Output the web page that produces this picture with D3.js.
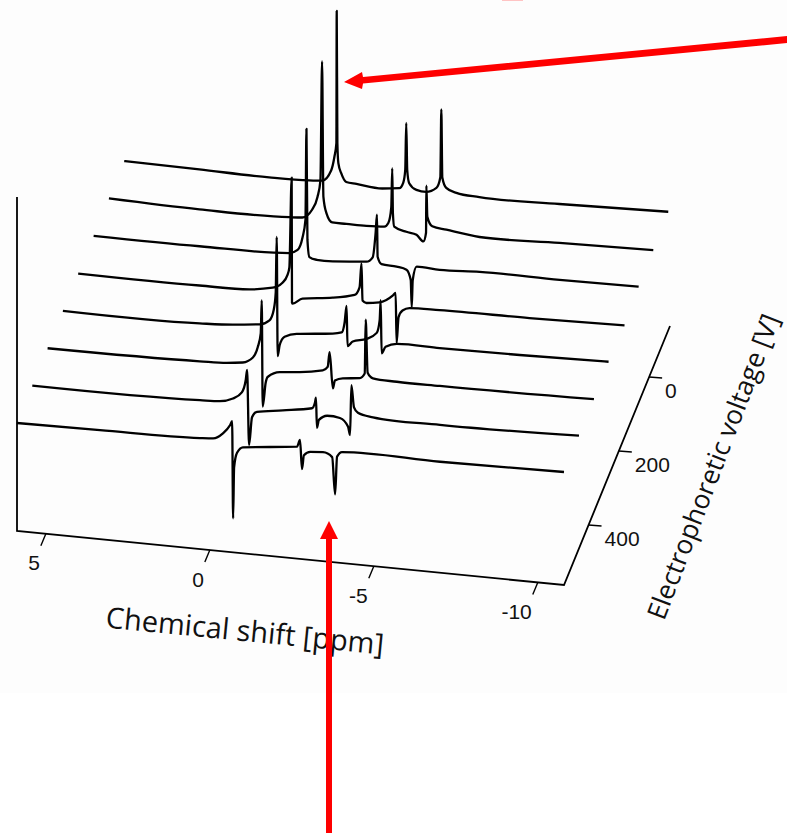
<!DOCTYPE html>
<html>
<head>
<meta charset="utf-8">
<script src="https://cdn.jsdelivr.net/npm/d3@7"></script>
<style>
  html, body { margin: 0; padding: 0; background: #fff; }
  svg { display: block; }
</style>
</head>
<body>
<div class="chart"></div>
<script>
let width = 787
let height = 840

// voltage of each trace, front to back
let voltages = [562, 461, 360, 259, 158, 56, -45, -146]
let ppmTicks = [5, 0, -5, -10]
let voltTicks = [0, 200, 400]

// [chemical shift, intensity], one list per voltage
let trace562 = [[5.88,0],[3.35,0.1],[0.30,0.3],[-0.10,0.4],[-0.40,1.0],[-0.62,1.9],[-0.68,2.3],[-0.71,-7.4],[-0.74,-2.3],[-0.83,-0.8],[-1.01,-0.2],[-2.66,0.4],[-2.75,1.1],[-2.81,-1.8],[-2.87,-0.4],[-3.06,0],[-3.45,0.1],[-3.73,-0.3],[-3.82,-4.0],[-3.88,-0.2],[-4.03,0.3],[-7.02,0.3],[-10.80,0.5]]
let trace461 = [[5.88,0],[0.77,0.2],[0.16,0.3],[-0.24,0.7],[-0.51,1.4],[-0.63,2.7],[-0.67,3.7],[-0.73,-3.8],[-0.82,-1.0],[-0.97,-0.4],[-1.76,0],[-2.65,0.5],[-2.74,1.1],[-2.77,1.6],[-2.80,-1.4],[-2.86,-0.6],[-3.11,-0.1],[-3.50,-0.2],[-3.75,-1.0],[-3.81,-1.8],[-3.85,3.2],[-3.93,1.0],[-4.05,0.5],[-4.51,0.2],[-6.55,0.1],[-10.79,0.4]]
let trace360 = [[5.88,0],[1.24,0.2],[0.42,0.3],[-0.07,0.5],[-0.38,1.1],[-0.53,2.2],[-0.62,3.6],[-0.65,6.9],[-0.68,-3.7],[-0.77,-1.3],[-0.83,-0.7],[-1.20,-0.1],[-1.81,0.1],[-2.51,0.5],[-2.66,0.9],[-2.72,2.4],[-2.82,-1.2],[-2.88,-0.4],[-3.12,-0.1],[-3.64,0.1],[-3.79,0.6],[-3.82,6.0],[-3.88,0.7],[-4.04,0.2],[-4.77,0.1],[-6.08,0.1],[-10.78,0.3]]
let trace259 = [[5.88,0],[1.71,0.1],[0.70,0.3],[-0.12,0.6],[-0.42,1.1],[-0.55,2.2],[-0.61,3.9],[-0.64,9.5],[-0.67,-2.4],[-0.73,-1.3],[-0.88,-0.4],[-1.25,0],[-2.35,0.4],[-2.62,0.6],[-2.71,1.6],[-2.77,3.3],[-2.80,-0.7],[-2.96,-0.2],[-3.38,0.2],[-3.69,0.9],[-3.78,2.2],[-3.81,4.2],[-3.84,-1.1],[-3.96,-0.4],[-4.30,0],[-5.61,0],[-8.05,0.1],[-10.76,0.3]]
let trace158 = [[5.88,0],[2.18,0],[0.66,0.1],[-0.05,0.5],[-0.35,1.1],[-0.50,1.9],[-0.56,2.7],[-0.63,11.7],[-0.64,-0.8],[-0.66,-0.9],[-0.96,-0.3],[-1.88,0.1],[-2.55,0.6],[-2.70,1.4],[-2.76,3.8],[-2.79,0.1],[-2.91,-0.1],[-3.31,0.1],[-3.71,0.9],[-3.80,1.2],[-3.83,-3.8],[-3.89,-1.2],[-4.01,-0.5],[-4.22,-0.2],[-5.14,-0.1],[-7.88,0],[-10.78,0.2]]
let trace56 = [[5.88,0],[2.65,0],[-0.09,0.2],[-0.34,0.6],[-0.49,1.9],[-0.58,3.7],[-0.61,12.8],[-0.64,1.7],[-0.70,0],[-0.92,-0.2],[-1.41,-0.2],[-2.44,0.1],[-2.63,0.6],[-2.72,3.1],[-2.76,4.9],[-2.78,0.7],[-2.90,0],[-3.36,-0.1],[-3.66,-0.3],[-3.79,-1.3],[-3.82,-4.0],[-3.85,-1.3],[-3.97,0.1],[-4.67,0],[-5.89,0.2],[-8.33,0.2],[-10.74,0.3]]
let traceM45 = [[5.88,0],[3.12,-0.2],[0.38,-0.1],[-0.02,0],[-0.32,0.9],[-0.48,2.2],[-0.57,3.9],[-0.62,15.8],[-0.66,2.3],[-0.75,0.7],[-0.93,-0.2],[-1.36,-0.2],[-1.97,-0.2],[-2.52,-0.1],[-2.64,0.3],[-2.73,1.9],[-2.76,5.8],[-2.78,1.3],[-2.82,0],[-3.19,-0.4],[-3.50,-0.6],[-3.71,-1.2],[-3.79,-0.3],[-3.80,4.4],[-3.83,1.3],[-3.98,0.4],[-4.41,0.2],[-5.42,-0.2],[-7.86,0],[-10.72,0.2]]
let traceM146 = [[5.88,0],[3.59,-0.1],[1.46,-0.2],[0.24,-0.1],[-0.16,0],[-0.43,1.1],[-0.53,2.5],[-0.59,3.9],[-0.60,17.1],[-0.62,3.9],[-0.65,1.9],[-0.74,0.9],[-0.89,0.1],[-1.20,0],[-1.99,-0.2],[-2.51,0],[-2.63,0.6],[-2.69,1.9],[-2.72,6.6],[-2.75,1.9],[-2.81,0.6],[-3.03,0],[-3.33,-0.1],[-3.64,0.4],[-3.76,1.5],[-3.79,8.3],[-3.82,1.5],[-3.94,0.5],[-4.25,0.1],[-4.95,-0.1],[-7.39,0],[-10.71,0.3]]

let traces = [trace562, trace461, trace360, trace259, trace158, trace56, traceM45, traceM146]

// oblique projection: each data axis adds its own pixel offset
let originX = 17
let originY = 531
let ppmX = d3.scaleLinear().domain([5.88, -10.8]).range([0, 547])
let ppmY = d3.scaleLinear().domain([5.88, -10.8]).range([0, 54])
let voltX = d3.scaleLinear().domain([562, -138]).range([0, 106])
let voltY = d3.scaleLinear().domain([562, -138]).range([0, -259])
let intensityY = d3.scaleLinear().domain([-10.8, 22.6]).range([0, -334])

function projX(ppm, volt) { return originX + ppmX(ppm) + voltX(volt) }
function projY(ppm, volt, intensity) { return originY + ppmY(ppm) + voltY(volt) + intensityY(intensity) }

let svg = d3.select('div.chart')
    .append('svg')
    .attr('width', width)
    .attr('height', height)
    .style('background-color', '#fff')

// the scan's slightly grey page stops here
svg.append('rect')
    .attr('width', width)
    .attr('height', 693)
    .style('fill', '#fdfdfd')

// box edges
let floorZ = intensityY.domain()[0]
let topZ = intensityY.domain()[1]
let edge = d3.line()
    .x(d => projX(d[0], d[1]))
    .y(d => projY(d[0], d[1], d[2]))
svg.append('path')
    .attr('d', edge([
        [5.88, 562, topZ],
        [5.88, 562, floorZ],
        [-10.8, 562, floorZ],
        [-10.8, -138, floorZ]
    ]))
    .style('fill', 'none')
    .style('stroke', 'black')
    .style('stroke-width', 1.8)

// chemical shift ticks
let xTick = svg.selectAll('g.xtick')
    .data(ppmTicks)
    .enter()
    .append('g')
    .attr('class', 'xtick')
    .attr('transform', d => `translate(${projX(d, 562)},${projY(d, 562, floorZ)})`)
xTick.append('line')
    .attr('x2', -5)
    .attr('y2', 12)
    .style('stroke', 'black')
    .style('stroke-width', 1.4)
xTick.append('text')
    .attr('x', -6)
    .attr('y', 36.5)
    .attr('text-anchor', 'end')
    .style('font-family', '"Liberation Sans", Arial, sans-serif')
    .style('font-size', '21px')
    .style('fill', '#111')
    .text(d => d)

// voltage ticks
let vTick = svg.selectAll('g.vtick')
    .data(voltTicks)
    .enter()
    .append('g')
    .attr('class', 'vtick')
    .attr('transform', d => `translate(${projX(-10.8, d)},${projY(-10.8, d, floorZ)})`)
vTick.append('line')
    .attr('x2', 13)
    .attr('y2', 1)
    .style('stroke', 'black')
    .style('stroke-width', 1.4)
vTick.append('text')
    .attr('x', 16)
    .attr('y', 20.5)
    .style('font-family', '"Liberation Sans", Arial, sans-serif')
    .style('font-size', '21px')
    .style('fill', '#111')
    .text(d => d)

// the spectra
let spectrum = d3.line()
    .x(d => d.x)
    .y(d => d.y)
    .curve(d3.curveMonotoneX)
svg.selectAll('path.trace')
    .data(traces)
    .enter()
    .append('path')
    .attr('class', 'trace')
    .attr('d', (d, i) => spectrum(d.map(p => ({
        x: projX(p[0], voltages[i]),
        y: projY(p[0], voltages[i], p[1])
    }))))
    .style('fill', 'none')
    .style('stroke', 'black')
    .style('stroke-width', 2.3)
    .style('stroke-linejoin', 'round')

// axis titles
svg.append('text')
    .attr('transform', 'translate(244,641) rotate(5.6)')
    .attr('text-anchor', 'middle')
    .style('font-family', '"Open Sans", sans-serif')
    .style('font-size', '29px')
    .style('fill', '#111')
    .text('Chemical shift [ppm]')
svg.append('text')
    .attr('transform', 'translate(722,470) rotate(-69)')
    .attr('text-anchor', 'middle')
    .style('font-family', '"Open Sans", sans-serif')
    .style('font-size', '26.5px')
    .style('fill', '#111')
    .text('Electrophoretic voltage [V]')

// red annotation arrows
svg.append('path')
    .attr('d', 'M787,36 L363,77 L362,72 L344,82 L362,89 L363,83.5 L787,43 Z')
    .style('fill', '#fe0000')
svg.append('path')
    .attr('d', 'M326,833 L326,539 L320,539 L329,521 L338,539 L332,539 L332,833 Z')
    .style('fill', '#fe0000')
svg.append('rect')
    .attr('x', 502)
    .attr('y', 0)
    .attr('width', 21)
    .attr('height', 1)
    .style('fill', '#ffc4c4')
</script>
</body>
</html>
